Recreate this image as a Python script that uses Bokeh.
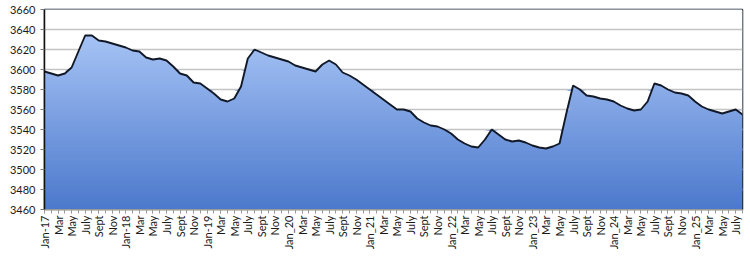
import numpy as np
from bokeh.plotting import figure
from bokeh.models import Range1d, FixedTicker
from bokeh.embed import file_html
from bokeh.resources import INLINE

# ---- data (monthly, Jan-17 .. Aug-25) ----
month_names = ["Jan", "Feb", "Mar", "Apr", "May", "Jun",
               "Jul", "Aug", "Sep", "Oct", "Nov", "Dec"]
years = ["17", "18", "19", "20", "21", "22", "23", "24", "25"]

values_2017 = [3598, 3596, 3594, 3596, 3602, 3618, 3634, 3634, 3629, 3628, 3626, 3624]
values_2018 = [3622, 3619, 3618, 3612, 3610, 3611, 3609, 3603, 3596, 3594, 3587, 3586]
values_2019 = [3581, 3576, 3570, 3568, 3571, 3583, 3611, 3620, 3617, 3614, 3612, 3610]
values_2020 = [3608, 3604, 3602, 3600, 3598, 3605, 3609, 3605, 3597, 3594, 3590, 3585]
values_2021 = [3580, 3575, 3570, 3565, 3560, 3560, 3558, 3551, 3547, 3544, 3543, 3540]
values_2022 = [3536, 3530, 3526, 3523, 3522, 3530, 3540, 3535, 3530, 3528, 3529, 3527]
values_2023 = [3524, 3522, 3521, 3523, 3526, 3556, 3584, 3580, 3574, 3573, 3571, 3570]
values_2024 = [3568, 3564, 3561, 3559, 3560, 3568, 3586, 3584, 3580, 3577, 3576, 3574]
values_2025 = [3568, 3563, 3560, 3558, 3556, 3558, 3560, 3555]

values = (values_2017 + values_2018 + values_2019 + values_2020 + values_2021 +
          values_2022 + values_2023 + values_2024 + values_2025)
categories = [f"{m}-{y}" for y in years for m in month_names][:len(values)]

tick_labels = [
    "Jan-17", "Mar", "May", "July", "Sept", "Nov",
    "Jan-18", "Mar", "May", "July", "Sept", "Nov",
    "Jan-19", "Mar", "May", "July", "Sept", "Nov",
    "Jan_20", "Mar", "May", "July", "Sept", "Nov",
    "Jan_21", "Mar", "May", "July", "Sept", "Nov",
    "Jan_22", "Mar", "May", "July", "Sept", "Nov",
    "Jan_23", "Mar", "May", "July", "Sept", "Nov",
    "Jan_24", "Mar", "May", "July", "Sept", "Nov",
    "Jan_25", "Mar", "May", "July",
]
y_ticks = [3460, 3480, 3500, 3520, 3540, 3560, 3580, 3600, 3620, 3640, 3660]

# ---- geometry helpers ----
idx = np.arange(len(values))
vals = np.array(values, dtype=float)
y_min, y_max = y_ticks[0], y_ticks[-1]

top_rgb = np.array([168, 197, 246])
bot_rgb = np.array([76, 121, 204])


def grad_color(y):
    t = np.clip((y - y_min) / (3640 - y_min), 0, 1)
    c = bot_rgb + t * (top_rgb - bot_rgb)
    return "#%02x%02x%02x" % tuple(int(round(v)) for v in c)


p = figure(width=750, height=265, output_backend="svg", toolbar_location=None,
           x_range=Range1d(0, len(values) - 1), y_range=Range1d(y_min, y_max),
           min_border_left=44, min_border_right=8, min_border_top=9,
           min_border_bottom=56)
p.xgrid.visible = False
p.ygrid.visible = False
p.background_fill_color = "white"
p.border_fill_color = "white"
p.outline_line_color = "#1a1a1a"
p.outline_line_width = 1.5

# gradient background (vertical)
band = 2
bottoms = np.arange(y_min, y_max, band)
p.quad(left=0, right=len(values) - 1, bottom=bottoms, top=bottoms + band + 0.4,
       fill_color=[grad_color(b + band / 2) for b in bottoms], line_color=None)

# white above the series
p.varea(x=idx, y1=vals, y2=np.full(len(vals), y_max), fill_color="white")

# grid lines (visible only above the series)
grid_levels = y_ticks[1:-1]
p.hspan(y=grid_levels, line_color="#c4c4c4", line_width=1.5)
d = 1.4
for g in grid_levels:
    p.varea(x=idx, y1=np.full(len(vals), g - d), y2=np.clip(vals, g - d, g + d),
            fill_color=grad_color(g))

# series line
p.line(idx, vals, line_color="#111827", line_width=1.9)

# axes
font = "Lato"
p.yaxis.ticker = FixedTicker(ticks=y_ticks)
p.yaxis.axis_line_color = "#111111"
p.yaxis.axis_line_width = 1.5
p.yaxis.major_tick_out = 4
p.yaxis.major_tick_in = 0
p.yaxis.minor_tick_line_color = None
p.yaxis.major_tick_line_color = "#777777"
p.yaxis.major_label_standoff = 5
p.yaxis.major_label_text_font = font
p.yaxis.major_label_text_font_size = "11px"
p.yaxis.major_label_text_color = "#1a1a1a"

major_x = list(range(0, len(values), 2))[:len(tick_labels)]
p.xaxis.ticker = FixedTicker(ticks=major_x, minor_ticks=list(idx))
p.xaxis.major_label_overrides = {i: lab for i, lab in zip(major_x, tick_labels)}
p.xaxis.major_label_orientation = np.pi / 2
p.xaxis.axis_line_color = "#9a9a9a"
p.xaxis.major_tick_line_color = "#9a9a9a"
p.xaxis.minor_tick_line_color = "#9a9a9a"
p.xaxis.major_tick_out = 4
p.xaxis.major_tick_in = 0
p.xaxis.minor_tick_out = 4
p.xaxis.minor_tick_in = 0
p.xaxis.major_label_standoff = 2
p.xaxis.major_label_text_font = font
p.xaxis.major_label_text_font_size = "11px"
p.xaxis.major_label_text_color = "#1a1a1a"

open("out.html", "w").write(file_html(p, INLINE))
